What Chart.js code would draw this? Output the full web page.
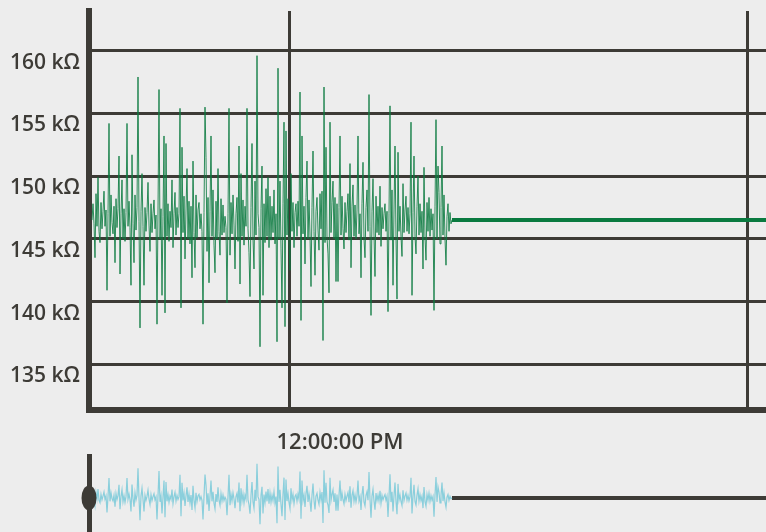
<!DOCTYPE html>
<html>
<head>
<meta charset="utf-8">
<script src="https://cdn.jsdelivr.net/npm/chart.js@4/dist/chart.umd.min.js"></script>
<style>
  html, body { margin: 0; padding: 0; background: #ededed; }
  body { width: 766px; height: 532px; position: relative; overflow: hidden; }
  #mainChart { position: absolute; left: 0; top: 0; }
  #navChart { position: absolute; left: 0; top: 454px; }
</style>
</head>
<body>
<canvas id="mainChart" width="766" height="454"></canvas>
<canvas id="navChart" width="766" height="78"></canvas>
<script>
// resistance samples (kOhm), one per second from t = 0
const sampleStepSec = 1;
const resistanceKOhm = [
  146.5, 147.8, 146.2, 143.5, 148.6, 146.0, 149.9, 145.6, 144.7, 147.9,
  145.8, 147.2, 148.8, 146.0, 147.3, 140.9, 147.0, 154.2, 145.2, 148.5,
  146.3, 145.4, 147.6, 143.1, 148.2, 145.9, 147.4, 151.6, 142.2, 147.0,
  149.7, 145.0, 147.4, 144.8, 147.1, 154.2, 146.0, 148.0, 145.9, 141.3,
  151.7, 146.2, 143.1, 148.5, 145.7, 147.5, 157.9, 146.4, 137.9, 147.2,
  150.2, 146.0, 141.3, 147.5, 145.6, 147.1, 149.5, 146.1, 144.0, 147.8,
  145.5, 147.0, 148.1, 145.8, 146.9, 138.2, 147.3, 156.9, 145.0, 147.4,
  140.5, 146.8, 153.2, 139.1, 152.6, 145.2, 147.8, 144.8, 147.2, 145.9,
  149.7, 144.3, 147.0, 148.7, 145.3, 147.5, 145.9, 147.0, 155.4, 139.5,
  152.3, 145.5, 148.4, 143.4, 147.3, 150.6, 145.0, 148.0, 144.6, 147.6,
  141.9, 151.2, 145.5, 142.7, 148.5, 145.1, 147.3, 147.9, 145.8, 147.0,
  145.6, 138.2, 147.1, 155.5, 151.5, 144.0, 148.3, 141.5, 147.2, 153.2,
  145.2, 148.9, 144.5, 142.3, 148.0, 145.0, 150.6, 145.6, 143.7, 148.2,
  145.3, 147.7, 145.5, 146.8, 145.9, 139.9, 147.0, 155.4, 143.7, 147.9,
  145.4, 148.5, 146.1, 142.6, 147.0, 148.3, 144.8, 152.4, 141.4, 150.2,
  145.2, 148.1, 144.5, 147.6, 146.0, 155.4, 145.8, 143.9, 140.4, 147.5,
  152.6, 145.0, 142.6, 149.6, 145.3, 159.6, 147.0, 145.9, 136.4, 147.4,
  150.8, 140.5, 147.8, 144.7, 149.0, 145.2, 149.9, 144.3, 148.4, 144.9,
  147.6, 145.5, 148.9, 144.6, 147.0, 136.8, 158.6, 145.0, 149.6, 144.2,
  139.5, 147.8, 154.3, 138.0, 153.6, 145.3, 148.2, 144.8, 142.5, 150.2,
  145.6, 147.9, 144.3, 147.1, 147.8, 145.2, 148.0, 146.0, 156.7, 138.5,
  153.2, 145.4, 147.6, 143.0, 148.3, 151.2, 145.0, 148.1, 145.3, 141.2,
  147.5, 152.0, 145.6, 142.1, 147.2, 148.3, 145.7, 144.1, 148.6, 145.8,
  148.8, 136.9, 157.1, 144.7, 152.3, 145.1, 143.8, 140.7, 154.3, 145.5,
  147.9, 149.6, 145.0, 148.3, 141.6, 147.8, 141.6, 147.5, 153.2, 145.3,
  148.4, 145.8, 144.2, 147.9, 145.5, 147.2, 148.6, 144.9, 151.0, 142.7,
  147.6, 149.3, 145.2, 147.7, 145.0, 147.3, 153.2, 145.4, 147.0, 141.9,
  147.8, 151.1, 145.0, 143.5, 147.5, 148.9, 145.6, 156.5, 146.0, 138.9,
  147.2, 149.8, 145.3, 142.0, 148.4, 145.5, 147.6, 145.3, 149.2, 144.4,
  147.5, 145.8, 147.0, 147.8, 145.6, 147.2, 139.2, 147.0, 155.6, 144.9,
  148.9, 141.3, 147.3, 152.4, 145.1, 140.2, 151.9, 145.6, 147.6, 145.2,
  143.6, 149.4, 145.5, 147.3, 148.4, 145.6, 147.5, 145.4, 147.0, 154.3,
  140.5, 147.1, 151.6, 145.2, 143.8, 147.6, 150.0, 145.3, 147.8, 145.5,
  147.2, 142.6, 150.7, 145.1, 143.3, 147.9, 145.6, 148.3, 145.2, 147.4,
  145.7, 147.0, 139.3, 147.6, 154.5, 145.0, 150.8, 148.7, 144.6, 147.5,
  152.4, 145.3, 148.5, 145.0, 142.9, 146.8, 147.8, 145.6, 147.1, 146.2,
  146.5
];
// value held after recording stops
const idleKOhm = 146.5;
const idleEndSec = 674;

const xMin = -3;
const xMax = 674;
const xGridSec = [197, 655];
const xTickLabels = ['12:00:00 PM', ''];

const yMin = 131.36;
const yMax = 163.16;
const yTicks = [135, 140, 145, 150, 155, 160];

const navYMin = 133.4;
const navYMax = 163.4;

const INK = '#3d3b36';
const GREEN = '#0a7a40';

Chart.defaults.font.family = '"Open Sans", "DejaVu Sans", sans-serif';
Chart.defaults.font.size = 21;
Chart.defaults.font.weight = '600';
Chart.defaults.color = INK;

const samplePoints = resistanceKOhm.map((v, i) => ({ x: i * sampleStepSec, y: v }));
const lastSec = (resistanceKOhm.length - 1) * sampleStepSec;
const idlePoints = [{ x: lastSec, y: idleKOhm }, { x: idleEndSec, y: idleKOhm }];

// don't let tick labels push the plot area in
function noLabelPadding(scale) {
  scale.paddingTop = 0;
  scale.paddingBottom = 0;
  scale.paddingLeft = 0;
  scale.paddingRight = 0;
}

new Chart(document.getElementById('mainChart'), {
  type: 'line',
  data: {
    datasets: [
      { data: samplePoints, borderColor: 'rgba(10, 122, 64, 0.85)', borderWidth: 1, pointRadius: 0, tension: 0 },
      { data: idlePoints, borderColor: GREEN, borderWidth: 4, pointRadius: 0, tension: 0 }
    ]
  },
  options: {
    responsive: false,
    animation: false,
    events: [],
    layout: { padding: { top: 11, right: 0, left: 0, bottom: 0 } },
    plugins: { legend: { display: false }, tooltip: { enabled: false } },
    scales: {
      x: {
        type: 'linear',
        min: xMin,
        max: xMax,
        afterBuildTicks: (scale) => { scale.ticks = xGridSec.map(v => ({ value: v })); },
        afterFit: (scale) => { scale.height = 44; noLabelPadding(scale); },
        grid: { color: INK, lineWidth: 3, drawTicks: false },
        border: { color: INK, width: 6 },
        ticks: {
          padding: 20,
          labelOffset: 51,
          maxRotation: 0,
          autoSkip: false,
          font: { size: 22 },
          callback: (v) => xTickLabels[xGridSec.indexOf(v)]
        }
      },
      y: {
        min: yMin,
        max: yMax,
        afterBuildTicks: (scale) => { scale.ticks = yTicks.map(v => ({ value: v })); },
        afterFit: (scale) => { scale.width = 89; noLabelPadding(scale); },
        grid: { color: INK, lineWidth: 3, drawTicks: false },
        border: { color: INK, width: 6 },
        ticks: {
          padding: 9,
          labelOffset: 12,
          callback: (v) => v + ' kΩ'
        }
      }
    }
  }
});

// navigator handle on the left edge
const handlePlugin = {
  id: 'handle',
  afterDatasetsDraw(chart) {
    const { ctx, chartArea, scales } = chart;
    const cy = scales.y.getPixelForValue(idleKOhm);
    ctx.save();
    ctx.fillStyle = INK;
    ctx.beginPath();
    ctx.ellipse(chartArea.left, cy, 7.5, 12.5, 0, 0, Math.PI * 2);
    ctx.fill();
    ctx.restore();
  }
};

new Chart(document.getElementById('navChart'), {
  type: 'line',
  data: {
    datasets: [
      { data: samplePoints, borderColor: 'rgba(104, 196, 214, 0.75)', borderWidth: 1.2, pointRadius: 0, tension: 0 },
      { data: idlePoints, borderColor: INK, borderWidth: 4, pointRadius: 0, tension: 0 }
    ]
  },
  options: {
    responsive: false,
    animation: false,
    events: [],
    layout: { padding: 0 },
    plugins: { legend: { display: false }, tooltip: { enabled: false } },
    scales: {
      x: { type: 'linear', min: xMin, max: xMax, display: false },
      y: {
        min: navYMin,
        max: navYMax,
        afterFit: (scale) => { scale.width = 89; noLabelPadding(scale); },
        grid: { display: false, drawTicks: false },
        border: { color: INK, width: 5 },
        ticks: { display: false }
      }
    }
  },
  plugins: [handlePlugin]
});
</script>
</body>
</html>
